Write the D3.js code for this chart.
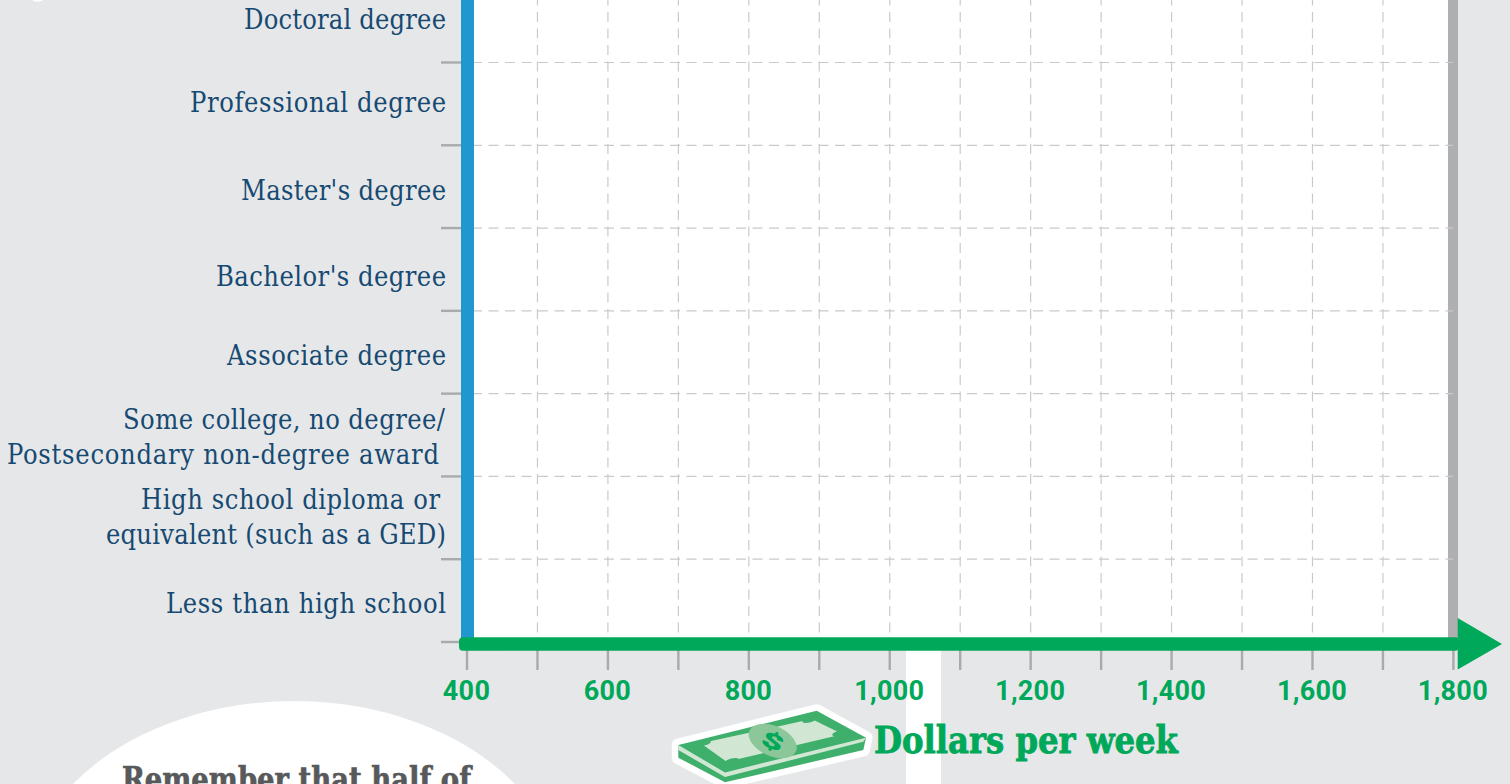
<!DOCTYPE html>
<html>
<head>
<meta charset="utf-8">
<script src="https://cdn.jsdelivr.net/npm/d3@7"></script>
<style>
  html, body { margin: 0; padding: 0; background: #e6e7e9; overflow: hidden; }
  svg { display: block; }
</style>
</head>
<body>
<div id="chart"></div>
<script>
const width = 1510;
const height = 784;

// values
const categories = ["Doctoral degree", "Professional degree", "Master's degree", "Bachelor's degree",
    "Associate degree", "Some college, no degree/", "High school diploma or", "Less than high school"];
const secondLines = ["", "", "", "", "", "Postsecondary non-degree award", "equivalent (such as a GED)", ""];
const xTickValues = [400, 500, 600, 700, 800, 900, 1000, 1100, 1200, 1300, 1400, 1500, 1600, 1700, 1800];
const xLabelValues = [400, 600, 800, 1000, 1200, 1400, 1600, 1800];
const xTitle = "Dollars per week";
const noteText = "Remember that half of";

const slab = "'DejaVu Serif Condensed', 'DejaVu Serif', serif";
const sans = "'Roboto', sans-serif";
const green = "#00a859";
const darkBill = "#3fb06b";
const lightBill = "#d1e7d4";
const gridColor = "#c9cacb";
const tickColor = "#a9aaac";

const svg = d3.select("#chart")
    .append("svg")
    .attr("width", width)
    .attr("height", height)
    .attr("viewBox", [0, 0, width, height]);

//X Scale
const xScale = d3.scaleLinear()
    .domain([400, 1800])
    .range([467, 1453.4]);

//Y Scale
const yScale = d3.scaleBand()
    .domain(categories)
    .range([-20.3, 642]);

const yTicks = categories.map(d => yScale(d) + yScale.bandwidth());

//Background pieces
svg.append("rect")
    .attr("x", 906).attr("y", 645)
    .attr("width", 35).attr("height", height - 645)
    .attr("fill", "white");
svg.append("ellipse")
    .attr("cx", 294).attr("cy", 900)
    .attr("rx", 272).attr("ry", 199)
    .attr("fill", "white");
svg.append("ellipse")
    .attr("cx", 37.5).attr("cy", -0.5)
    .attr("rx", 5).attr("ry", 2)
    .attr("fill", "white");

//Plot area
svg.append("rect")
    .attr("x", xScale(400)).attr("y", 0)
    .attr("width", xScale(1800) - xScale(400)).attr("height", 642)
    .attr("fill", "white");

//Right border, under the grid
svg.append("rect")
    .attr("x", 1448).attr("y", 0)
    .attr("width", 10).attr("height", 640)
    .attr("fill", "#aeafb1");

//Grid
svg.append("g").selectAll("line")
    .data(xTickValues.slice(1, -1))
    .join("line")
    .attr("x1", d => xScale(d)).attr("x2", d => xScale(d))
    .attr("y1", 0).attr("y2", 640)
    .attr("stroke", gridColor)
    .attr("stroke-width", 1.2)
    .attr("stroke-dasharray", "10 6.5")
    .attr("stroke-dashoffset", 4.5);
svg.append("g").selectAll("line")
    .data(yTicks.slice(0, -1))
    .join("line")
    .attr("x1", 474).attr("x2", 1453)
    .attr("y1", d => d).attr("y2", d => d)
    .attr("stroke", gridColor)
    .attr("stroke-width", 1.2)
    .attr("stroke-dasharray", "10 6.5")
    .attr("stroke-dashoffset", 2);

//Y Axis
svg.append("g").selectAll("line")
    .data(yTicks)
    .join("line")
    .attr("x1", 441).attr("x2", 462)
    .attr("y1", d => d).attr("y2", d => d)
    .attr("stroke", tickColor)
    .attr("stroke-width", 2.4);
svg.append("rect")
    .attr("x", 461).attr("y", 0)
    .attr("width", 13).attr("height", 642)
    .attr("fill", "#2097ce");

//Y labels, nudged off the band centre the way the original is
const labelOffset = [0.7, 0.7, 5.9, 9.1, 5.3, -14, -16, 5.1];
const labelRight = [446, 446, 446, 446, 446, 445, 440, 446];
const secondRight = [446, 446, 446, 446, 446, 439, 446, 446];
const labelLength = [202, 256, 205, 230, 219, 322, 299, 280];
const secondLength = [0, 0, 0, 0, 0, 432, 340, 0];
const lineGap = 35;
const labels = svg.append("g")
    .attr("font-family", slab)
    .attr("font-size", 27)
    .attr("fill", "#164a72")
    .attr("text-anchor", "end")
    .attr("dominant-baseline", "middle");
categories.forEach((d, i) => {
    const y = yScale(d) + yScale.bandwidth() / 2 + labelOffset[i];
    labels.append("text")
        .attr("x", labelRight[i]).attr("y", y)
        .attr("textLength", labelLength[i])
        .text(d);
    if (secondLines[i]) {
        labels.append("text")
            .attr("x", secondRight[i])
            .attr("y", y + lineGap)
            .attr("textLength", secondLength[i])
            .text(secondLines[i]);
    }
});

//X Axis
svg.append("g").selectAll("line")
    .data(xTickValues)
    .join("line")
    .attr("x1", d => xScale(d)).attr("x2", d => xScale(d))
    .attr("y1", 650).attr("y2", 670)
    .attr("stroke", tickColor)
    .attr("stroke-width", 2.4);
svg.append("rect")
    .attr("x", 459).attr("y", 637.3)
    .attr("width", 1000).attr("height", 13.4)
    .attr("rx", 4)
    .attr("fill", green);
svg.append("path")
    .attr("d", "M1457.7,618L1502,644L1457.7,669.5Z")
    .attr("fill", green);
svg.append("g").selectAll("text")
    .data(xLabelValues)
    .join("text")
    .attr("x", d => xScale(d) - 0.5)
    .attr("y", 700)
    .attr("text-anchor", "middle")
    .attr("font-family", sans)
    .attr("font-weight", 700)
    .attr("font-size", 27)
    .attr("letter-spacing", 0.3)
    .attr("fill", green)
    .text(d => d3.format(",")(d));

//Money icon
const bill = svg.append("g");
const billOutline = "M678.3,745L816.7,710.7L866,737.7L863.3,750L725,782.3L678.3,757.7Z";
bill.append("path")
    .attr("d", billOutline)
    .attr("fill", "white")
    .attr("stroke", "white")
    .attr("stroke-width", 13)
    .attr("stroke-linejoin", "round");
bill.append("path")
    .attr("d", billOutline)
    .attr("fill", darkBill);
bill.append("path")
    .attr("d", "M678.3,745L725,772.5L866,737.7L863.3,741.7L725,777L678.3,750Z")
    .attr("fill", lightBill);
bill.append("path")
    .attr("d", "M700.7,743.3L811.7,719L842.7,734.3L726.7,761.7Z")
    .attr("fill", lightBill);
[[704, 743], [809, 720], [839, 733.5], [732, 761]].forEach(c => {
    bill.append("ellipse")
        .attr("cx", c[0]).attr("cy", c[1])
        .attr("rx", 7).attr("ry", 2.6)
        .attr("transform", `rotate(-13 ${c[0]} ${c[1]})`)
        .attr("fill", darkBill);
});
bill.append("ellipse")
    .attr("cx", 772.7).attr("cy", 741)
    .attr("rx", 25.5).attr("ry", 15)
    .attr("transform", "rotate(24 772.7 741)")
    .attr("fill", "#8cc79a");
bill.append("text")
    .attr("transform", "translate(772.7,741) rotate(22) scale(1.55,0.85)")
    .attr("text-anchor", "middle")
    .attr("dy", "0.36em")
    .attr("font-family", sans)
    .attr("font-weight", 900)
    .attr("font-size", 25)
    .attr("fill", green)
    .text("$");

//Title
svg.append("text")
    .attr("x", 874).attr("y", 753)
    .attr("font-family", slab)
    .attr("font-weight", 700)
    .attr("font-size", 38)
    .attr("textLength", 304)
    .attr("lengthAdjust", "spacingAndGlyphs")
    .attr("stroke", green)
    .attr("stroke-width", 0.8)
    .attr("fill", green)
    .text(xTitle);

svg.append("text")
    .attr("x", 122).attr("y", 791)
    .attr("font-family", slab)
    .attr("font-weight", 700)
    .attr("font-size", 34)
    .attr("textLength", 349)
    .attr("lengthAdjust", "spacingAndGlyphs")
    .attr("stroke", "#58595b")
    .attr("stroke-width", 0.7)
    .attr("fill", "#58595b")
    .text(noteText);
</script>
</body>
</html>
